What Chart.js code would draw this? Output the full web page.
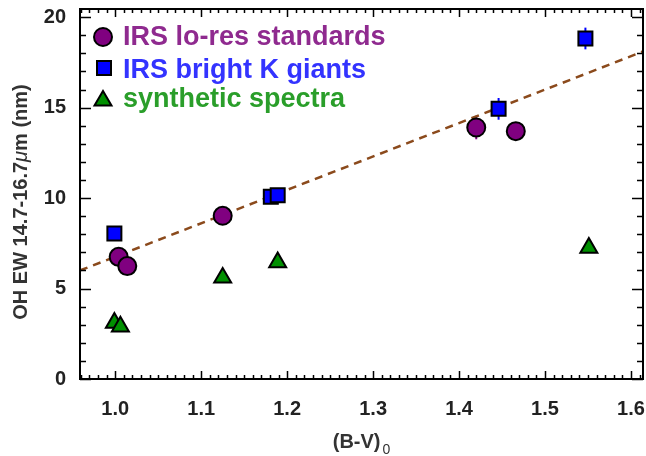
<!DOCTYPE html>
<html>
<head>
<meta charset="utf-8">
<script src="https://cdn.jsdelivr.net/npm/chart.js@4.4.1/dist/chart.umd.min.js"></script>
<style>
  html, body { margin: 0; padding: 0; background: #fff; }
  #wrap { width: 646px; height: 456px; }
</style>
</head>
<body>
<div id="wrap"><canvas id="c"></canvas></div>
<script>
// IRS lo-res standards (circles)
const loresX = [1.004, 1.014, 1.125, 1.420, 1.466];
const loresY = [6.75, 6.24, 9.02, 13.9, 13.7];
const loresErr = [0.3, 0.3, 0.3, 0.65, 0.4];

// IRS bright K giants (squares)
const giantsX = [0.999, 1.181, 1.189, 1.446, 1.547];
const giantsY = [8.04, 10.07, 10.16, 14.93, 18.82];
const giantsErr = [0.3, 0.3, 0.3, 0.6, 0.6];

// synthetic spectra (triangles)
const synthX = [0.999, 1.006, 1.125, 1.189, 1.551];
const synthY = [3.1, 2.9, 5.6, 6.45, 7.25];

// dashed fit line, end points
const fitX = [0.959, 1.614];
const fitY = [6.0, 18.1];

const xTicks = [1.0, 1.1, 1.2, 1.3, 1.4, 1.5, 1.6];
const yTicks = [0, 5, 10, 15, 20];

const FONT = '"Liberation Sans", Arial, Helvetica, sans-serif';
const PURPLE = '#800080';
const BLUE = '#0000ff';
const GREEN = '#009000';

const zip = (xs, ys) => xs.map((x, i) => ({ x: x, y: ys[i] }));

// error bars, frame with inward ticks, legend and axis titles
const idlPlot = {
    id: 'idlPlot',
    beforeDatasetsDraw(chart) {
        const { ctx, scales: { x, y } } = chart;
        const bars = [[loresX, loresY, loresErr, PURPLE], [giantsX, giantsY, giantsErr, BLUE]];
        ctx.save();
        ctx.lineWidth = 2;
        bars.forEach(([xs, ys, es, col]) => {
            ctx.strokeStyle = col;
            xs.forEach((xv, i) => {
                const px = x.getPixelForValue(xv);
                ctx.beginPath();
                ctx.moveTo(px, y.getPixelForValue(ys[i] - es[i]));
                ctx.lineTo(px, y.getPixelForValue(ys[i] + es[i]));
                ctx.stroke();
            });
        });
        ctx.restore();
    },
    afterDatasetsDraw(chart) {
        const { ctx, chartArea: a, scales: { x, y } } = chart;
        ctx.save();
        ctx.strokeStyle = '#000';
        ctx.lineWidth = 2;
        ctx.strokeRect(a.left, a.top, a.right - a.left, a.bottom - a.top);

        ctx.lineWidth = 1.5;
        ctx.beginPath();
        // x ticks, minor every 0.01
        for (let k = 96; k <= 161; k++) {
            const px = Math.round(x.getPixelForValue(k / 100)) + 0.5;
            const len = k % 10 === 0 ? 8 : 4;
            ctx.moveTo(px, a.bottom); ctx.lineTo(px, a.bottom - len);
            ctx.moveTo(px, a.top); ctx.lineTo(px, a.top + len);
        }
        // y ticks, minor every 1
        for (let k = 0; k <= 20; k++) {
            const py = Math.round(y.getPixelForValue(k)) + 0.5;
            const len = k % 5 === 0 ? 11 : 6;
            ctx.moveTo(a.left, py); ctx.lineTo(a.left + len, py);
            ctx.moveTo(a.right, py); ctx.lineTo(a.right - len, py);
        }
        ctx.stroke();

        // legend
        ctx.lineWidth = 2;
        ctx.strokeStyle = '#000';
        ctx.fillStyle = PURPLE;
        ctx.beginPath(); ctx.arc(103, 37, 9, 0, Math.PI * 2); ctx.fill(); ctx.stroke();
        ctx.fillStyle = BLUE;
        ctx.beginPath(); ctx.rect(97, 61, 14, 14); ctx.fill(); ctx.stroke();
        ctx.fillStyle = GREEN;
        ctx.beginPath();
        ctx.moveTo(103, 91); ctx.lineTo(111.5, 105.5); ctx.lineTo(94.5, 105.5); ctx.closePath();
        ctx.fill(); ctx.stroke();

        ctx.font = 'bold 27px ' + FONT;
        ctx.textBaseline = 'alphabetic';
        ctx.textAlign = 'left';
        ctx.fillStyle = '#8f2a8f'; ctx.fillText('IRS lo-res standards', 123, 45);
        ctx.fillStyle = '#3333ff'; ctx.fillText('IRS bright K giants', 123, 78);
        ctx.fillStyle = '#2a9e2a'; ctx.fillText('synthetic spectra', 123, 107);
        ctx.restore();
    },
    afterDraw(chart) {
        const { ctx, chartArea: a } = chart;
        ctx.save();
        ctx.fillStyle = '#333';
        ctx.textBaseline = 'alphabetic';
        ctx.textAlign = 'left';

        // x title: (B-V) with subscript 0
        const bold = 'bold 20px ' + FONT;
        const sub = '14px ' + FONT;
        ctx.font = bold; const w1 = ctx.measureText('(B-V)').width;
        ctx.font = sub; const w2 = ctx.measureText('0').width;
        let sx = (a.left + a.right) / 2 - (w1 + w2 + 2) / 2;
        ctx.font = bold; ctx.fillText('(B-V)', sx, 448);
        ctx.font = sub; ctx.fillText('0', sx + w1 + 2, 454);

        // y title, rotated, italic mu
        const parts = [['OH EW 14.7-16.7', bold], ['\u03bc', 'italic 20px ' + FONT], ['m (nm)', bold]];
        let total = 0;
        parts.forEach(p => { ctx.font = p[1]; total += ctx.measureText(p[0]).width; });
        ctx.translate(27, 202);
        ctx.rotate(-Math.PI / 2);
        let u = -total / 2;
        parts.forEach(p => {
            ctx.font = p[1];
            ctx.fillText(p[0], u, 0);
            u += ctx.measureText(p[0]).width;
        });
        ctx.restore();
    }
};

new Chart(document.getElementById('c'), {
    type: 'scatter',
    data: {
        datasets: [
            {
                label: 'IRS lo-res standards',
                data: zip(loresX, loresY),
                pointStyle: 'circle',
                pointRadius: 9,
                pointHoverRadius: 9,
                backgroundColor: PURPLE,
                borderColor: '#000',
                borderWidth: 2,
                order: 1
            },
            {
                label: 'IRS bright K giants',
                data: zip(giantsX, giantsY),
                pointStyle: 'rect',
                pointRadius: 9.9,
                pointHoverRadius: 9.9,
                backgroundColor: BLUE,
                borderColor: '#000',
                borderWidth: 2,
                order: 2
            },
            {
                label: 'synthetic spectra',
                data: zip(synthX, synthY),
                pointStyle: 'triangle',
                pointRadius: 9.8,
                pointHoverRadius: 9.8,
                backgroundColor: GREEN,
                borderColor: '#000',
                borderWidth: 2,
                order: 3
            },
            {
                type: 'line',
                label: 'fit',
                data: zip(fitX, fitY),
                borderColor: '#8b4a1c',
                borderWidth: 2.5,
                borderDash: [8, 6],
                pointRadius: 0,
                fill: false,
                order: 4
            }
        ]
    },
    options: {
        responsive: true,
        maintainAspectRatio: false,
        animation: false,
        events: [],
        layout: { autoPadding: false, padding: { top: 9, right: 3, left: 0, bottom: 0 } },
        plugins: {
            legend: { display: false },
            tooltip: { enabled: false }
        },
        scales: {
            x: {
                type: 'linear',
                min: 0.959,
                max: 1.614,
                grid: { display: false, drawTicks: false },
                border: { display: false },
                afterBuildTicks: (s) => { s.ticks = xTicks.map(v => ({ value: v })); },
                afterFit: (s) => { s.height = 77; s.paddingLeft = 0; s.paddingRight = 0; },
                ticks: {
                    color: '#222',
                    padding: 18,
                    maxRotation: 0,
                    font: { family: FONT, size: 20, weight: 'bold' },
                    callback: (v) => v.toFixed(1)
                }
            },
            y: {
                type: 'linear',
                min: 0,
                max: 20.45,
                grid: { display: false, drawTicks: false },
                border: { display: false },
                afterBuildTicks: (s) => { s.ticks = yTicks.map(v => ({ value: v })); },
                afterFit: (s) => { s.width = 80; s.paddingTop = 0; s.paddingBottom = 0; },
                ticks: {
                    color: '#222',
                    padding: 14,
                    font: { family: FONT, size: 20, weight: 'bold' },
                    callback: (v) => String(v)
                }
            }
        }
    },
    plugins: [idlPlot]
});
</script>
</body>
</html>
